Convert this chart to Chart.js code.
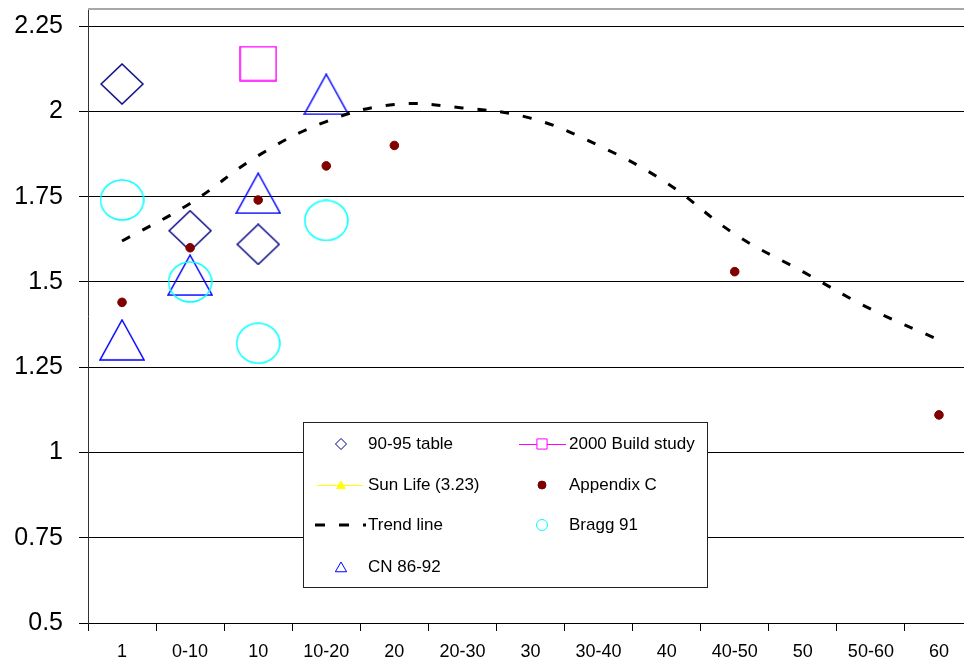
<!DOCTYPE html>
<html>
<head>
<meta charset="utf-8">
<script src="https://cdn.jsdelivr.net/npm/chart.js@4/dist/chart.umd.min.js"></script>
<style>
  html, body { margin: 0; padding: 0; background: #fff; overflow: hidden; }
  #wrap { position: relative; width: 974px; height: 662px; }
</style>
</head>
<body>
<div id="wrap"><canvas id="chart" width="974" height="662"></canvas></div>
<script>
// Categories along the horizontal axis
const categories = ['1', '0-10', '10', '10-20', '20', '20-30', '30', '30-40', '40', '40-50', '50', '50-60', '60'];

// Series values (null = no observation for that category)
const table9095  = [2.08, 1.65, 1.61, null, null, null, null, null, null, null, null, null, null];
const build2000  = [null, null, 2.14, null, null, null, null, null, null, null, null, null, null];
const sunLife    = [];
const appendixC  = [1.44, 1.60, 1.74, 1.84, 1.90, null, null, null, null, 1.53, null, null, 1.11];
const trendLine  = [1.62, 1.73, 1.87, 1.97, 2.02, 2.01, 1.98, 1.90, 1.79, 1.64, 1.53, 1.42, 1.33];
const bragg91    = [1.74, 1.50, 1.32, 1.68, null, null, null, null, null, null, null, null, null];
const cn8692     = [1.33, 1.52, 1.76, 2.05, null, null, null, null, null, null, null, null, null];

// Value axis: labelled ticks and range
const yTickValues = [0.5, 0.75, 1, 1.25, 1.5, 1.75, 2, 2.25];
const yMin = 0.5;
const yMax = 2.3;

const FONT = "'Liberation Sans', Arial, sans-serif";

// Hollow marker drawn into a small canvas so that it is centred on its box
function marker(w, h, color, shape) {
  const c = document.createElement('canvas');
  c.width = w + 2;
  c.height = h + 2;
  const g = c.getContext('2d');
  g.strokeStyle = color;
  g.lineWidth = 1.5;
  const L = 1, T = 1, R = w + 1, B = h + 1, cx = (w + 2) / 2, cy = (h + 2) / 2;
  g.beginPath();
  if (shape === 'diamond') {
    g.moveTo(cx, T); g.lineTo(R, cy); g.lineTo(cx, B); g.lineTo(L, cy); g.closePath();
  } else if (shape === 'triangle') {
    g.moveTo(cx, T); g.lineTo(R, B); g.lineTo(L, B); g.closePath();
  } else if (shape === 'ellipse') {
    g.ellipse(cx, cy, w / 2, h / 2, 0, 0, Math.PI * 2);
  } else {
    g.rect(L, T, w, h);
  }
  g.stroke();
  return c;
}

const diamondImg  = marker(42, 40, '#000080', 'diamond');
const squareImg   = marker(36, 34, '#FF00FF', 'square');
const ellipseImg  = marker(43, 40, '#00FFFF', 'ellipse');
const triangleImg = marker(44, 40, '#0000FF', 'triangle');

function scatterSet(label, data, style, color, order) {
  return {
    label, data, order,
    showLine: false,
    pointStyle: style,
    pointRadius: 20,
    pointBorderColor: color,
    pointBackgroundColor: 'transparent',
    borderColor: color,
    backgroundColor: color
  };
}

// Boxed legend inside the plot, two columns
const boxLegend = {
  id: 'boxLegend',
  afterDraw(chart) {
    const ctx = chart.ctx;
    const area = chart.chartArea;
    const h = Chart.helpers;
    ctx.save();

    // light top edge of the plot frame
    ctx.strokeStyle = '#a8a8a8';
    ctx.lineWidth = 2;
    ctx.beginPath();
    ctx.moveTo(area.left, area.top);
    ctx.lineTo(area.right, area.top);
    ctx.stroke();

    const bx = 303.5, by = 422.5, bw = 404, bh = 165;
    ctx.fillStyle = '#fff';
    ctx.fillRect(bx, by, bw, bh);
    ctx.strokeStyle = '#222';
    ctx.lineWidth = 1;
    ctx.strokeRect(bx, by, bw, bh);

    const c1 = 341, c2 = 542, t1 = 368, t2 = 569;
    const rows = [444, 485, 525, 567];

    function pt(style, r, x, y, stroke, fill, lw) {
      ctx.strokeStyle = stroke;
      ctx.fillStyle = fill;
      h.drawPoint(ctx, { pointStyle: style, radius: r, borderWidth: lw || 1.3, rotation: 0 }, x, y);
    }
    function seg(x1, x2, y, color, width, dash) {
      ctx.save();
      ctx.strokeStyle = color;
      ctx.lineWidth = width;
      ctx.setLineDash(dash || []);
      ctx.beginPath();
      ctx.moveTo(x1, y);
      ctx.lineTo(x2, y);
      ctx.stroke();
      ctx.restore();
    }

    const ds = chart.data.datasets;
    // column 1
    pt('rectRot', 5.5, c1, rows[0], '#000080', 'rgba(0,0,0,0)');
    seg(317, 363, rows[1] + 0.5, '#FFFF00', 1);
    pt('triangle', 5, c1, rows[1] + 1, '#FFFF00', '#FFFF00');
    seg(315, 366, rows[2], '#000', 3, [10, 14]);
    pt('triangle', 6.5, c1, rows[3] + 1.5, '#0000FF', 'rgba(0,0,0,0)');
    // column 2
    seg(519, 566, rows[0] + 0.5, '#FF00FF', 1);
    pt('rect', 7.2, c2, rows[0], '#FF00FF', '#fff');
    pt('circle', 4, c2, rows[1], '#800000', '#800000', 1);
    pt('circle', 5.5, c2, rows[2], '#00FFFF', 'rgba(0,0,0,0)');

    ctx.fillStyle = '#000';
    ctx.font = '17px ' + FONT;
    ctx.textBaseline = 'middle';
    ctx.textAlign = 'left';
    const byLabel = n => ds.find(d => d.label === n).label;
    ctx.fillText(byLabel('90-95 table'), t1, rows[0]);
    ctx.fillText(byLabel('Sun Life (3.23)'), t1, rows[1]);
    ctx.fillText(byLabel('Trend line'), t1, rows[2]);
    ctx.fillText(byLabel('CN 86-92'), t1, rows[3]);
    ctx.fillText(byLabel('2000 Build study'), t2, rows[0]);
    ctx.fillText(byLabel('Appendix C'), t2, rows[1]);
    ctx.fillText(byLabel('Bragg 91'), t2, rows[2]);
    ctx.restore();
  }
};

new Chart(document.getElementById('chart'), {
  type: 'line',
  data: {
    labels: categories,
    datasets: [
      scatterSet('90-95 table', table9095, diamondImg, '#000080', 3),
      scatterSet('2000 Build study', build2000, squareImg, '#FF00FF', 3),
      {
        label: 'Sun Life (3.23)', data: sunLife, order: 3,
        borderColor: '#FFFF00', backgroundColor: '#FFFF00',
        borderWidth: 1, pointStyle: 'triangle', pointRadius: 5
      },
      {
        label: 'Appendix C', data: appendixC, order: 0,
        showLine: false, pointStyle: 'circle', pointRadius: 4.3,
        pointBorderWidth: 1, pointBorderColor: '#800000', pointBackgroundColor: '#800000',
        borderColor: '#800000', backgroundColor: '#800000'
      },
      {
        label: 'Trend line', data: trendLine, order: 1,
        borderColor: '#000', borderWidth: 3, borderDash: [9, 14],
        borderCapStyle: 'butt', tension: 0.4, pointRadius: 0, fill: false
      },
      scatterSet('Bragg 91', bragg91, ellipseImg, '#00FFFF', 2),
      scatterSet('CN 86-92', cn8692, triangleImg, '#0000FF', 2)
    ]
  },
  options: {
    responsive: false,
    devicePixelRatio: 1,
    animation: false,
    layout: { autoPadding: false, padding: { top: 9, right: 1, left: 0, bottom: 0 } },
    plugins: {
      legend: { display: false },
      tooltip: { enabled: false }
    },
    scales: {
      x: {
        type: 'category',
        offset: true,
        grid: { offset: true, drawOnChartArea: false, drawTicks: true, tickLength: 8, color: '#000', tickColor: '#000' },
        border: { color: '#000', width: 1 },
        ticks: { font: { family: FONT, size: 18 }, color: '#000', padding: 10, maxRotation: 0, autoSkip: false },
        afterFit(s) { s.height = 39; s.paddingLeft = 0; s.paddingRight = 0; s.paddingTop = 0; s.paddingBottom = 0; }
      },
      y: {
        min: yMin,
        max: yMax,
        grid: { color: '#000', lineWidth: 1, tickLength: 9, tickColor: '#000' },
        border: { color: '#333', width: 1 },
        ticks: {
          font: { family: FONT, size: 25, lineHeight: 0.5 },
          color: '#000',
          padding: 16,
          callback: v => String(Math.round(v * 100) / 100)
        },
        afterBuildTicks(s) { s.ticks = yTickValues.map(v => ({ value: v })); },
        afterFit(s) { s.width = 88; s.paddingTop = 0; s.paddingBottom = 0; }
      }
    }
  },
  plugins: [boxLegend]
});
</script>
</body>
</html>
